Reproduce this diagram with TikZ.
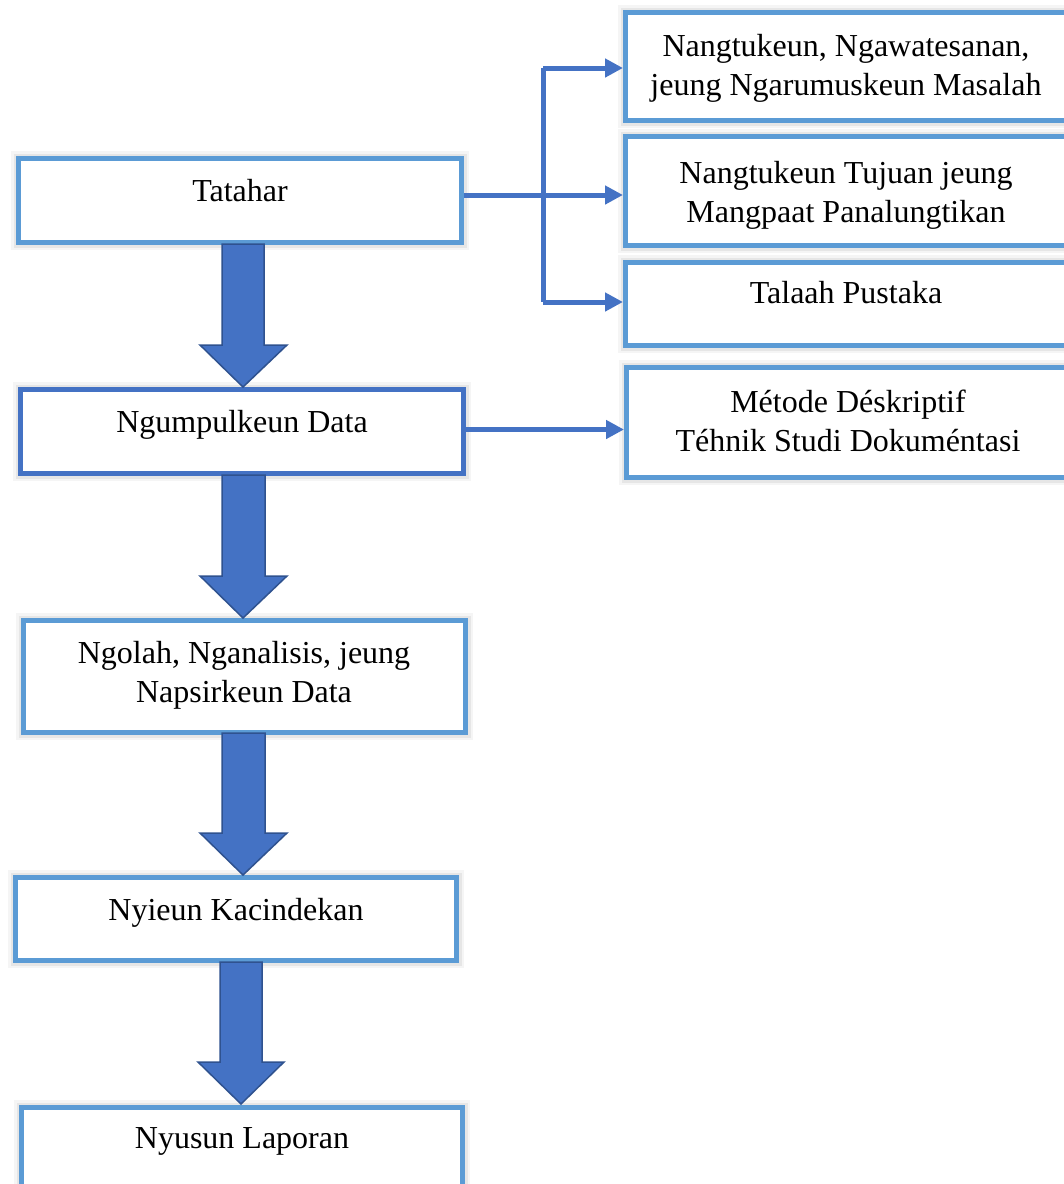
\documentclass[tikz,border=0pt]{standalone}
\usepackage{fontspec}
\setmainfont{Liberation Serif}
\usetikzlibrary{arrows.meta,calc}
\definecolor{lightblue}{HTML}{5B9BD5}
\definecolor{darkblue}{HTML}{4472C4}
\definecolor{arrowedge}{HTML}{2F528F}
\begin{document}
\begin{tikzpicture}[x=1pt,y=-1pt,
  box/.style={draw=lightblue, line width=5pt, fill=white, rectangle, inner sep=0pt,
    preaction={draw=black, draw opacity=0.04, line width=15pt},
    preaction={draw=black, draw opacity=0.06, line width=10pt}},
  darkbox/.style={box, draw=darkblue},
  txt/.style={font=\fontsize{32}{39}\selectfont, align=center, anchor=base, inner sep=0pt},
  conn/.style={draw=darkblue, line width=5pt},
  tip/.style={-{Triangle[length=18pt,width=18pt]}},
  fat/.style={fill=darkblue, draw=arrowedge, line width=1.5pt, line join=miter}
]
\useasboundingbox (0,0) rectangle (1064,1184);
\clip (0,0) rectangle (1064,1184);
\fill[white] (0,0) rectangle (1064,1184);

% left column boxes
\node[box, minimum width=443pt, minimum height=84pt] (tat) at (240,200.5) {};
\node[darkbox, minimum width=443pt, minimum height=84pt] (ngu) at (242,431.5) {};
\node[box, minimum width=442pt, minimum height=112pt] (ngo) at (244.5,676.5) {};
\node[box, minimum width=441pt, minimum height=83pt] (nyi) at (236,919) {};
\node[box, minimum width=441pt, minimum height=85pt] (nyu) at (242,1150) {};

% right column boxes
\node[box, minimum width=444pt, minimum height=108pt] (b1) at (847.5,66.5) {};
\node[box, minimum width=444pt, minimum height=109pt] (b2) at (847.5,191) {};
\node[box, minimum width=444pt, minimum height=83pt] (b3) at (847.5,304) {};
\node[box, minimum width=443pt, minimum height=110pt] (b4) at (848,422.5) {};

% texts (anchor=base is the baseline of the last line)
\node[txt] (ttat) at (240,201) {Tatahar};
\node[txt] (tngu) at (242,432) {Ngumpulkeun Data};
\node[txt] (tngo) at (244,702) {Ngolah, Nganalisis, jeung\\Napsirkeun Data};
\node[txt] (tnyi) at (236,920) {Nyieun Kacindekan};
\node[txt] (tnyu) at (242,1148) {Nyusun Laporan};
\node[txt] (tb1) at (846,95) {Nangtukeun, Ngawatesanan,\\jeung Ngarumuskeun Masalah};
\node[txt] (tb2) at (846,222) {Nangtukeun Tujuan jeung\\Mangpaat Panalungtikan};
\node[txt] (tb3) at (846,303) {Talaah Pustaka};
\node[txt] (tb4) at (848,451) {Métode Déskriptif\\Téhnik Studi Dokuméntasi};

% thin connectors
\coordinate (vt) at (543,68);
\coordinate (vb) at (543,302);
\draw[conn] (vt) -- (vb);
\draw[conn,tip] (vt) -- (vt -| b1.west);
\draw[conn,tip] (vb) -- (vb -| b3.west);
\draw[conn,tip] ($(tat.east)+(0,-5.5)$) -- ($(tat.east -| b2.west)+(0,-5.5)$);
\draw[conn,tip] ($(ngu.east)+(0,-2)$) -- ($(ngu.east -| b4.west)+(0,-2)$);

% block arrows
\draw[fat] (222,244) -- (222,345) -- (200,345) -- (243,387) -- (287,345) -- (264,345) -- (264,244) -- cycle;
\draw[fat] (222,475) -- (222,576) -- (200,576) -- (243,618) -- (287,576) -- (265,576) -- (265,475) -- cycle;
\draw[fat] (222,733) -- (222,833) -- (200,833) -- (243,875) -- (287,833) -- (265,833) -- (265,733) -- cycle;
\draw[fat] (220,962) -- (220,1062) -- (198,1062) -- (241,1104) -- (284,1062) -- (262,1062) -- (262,962) -- cycle;
\end{tikzpicture}
\end{document}
